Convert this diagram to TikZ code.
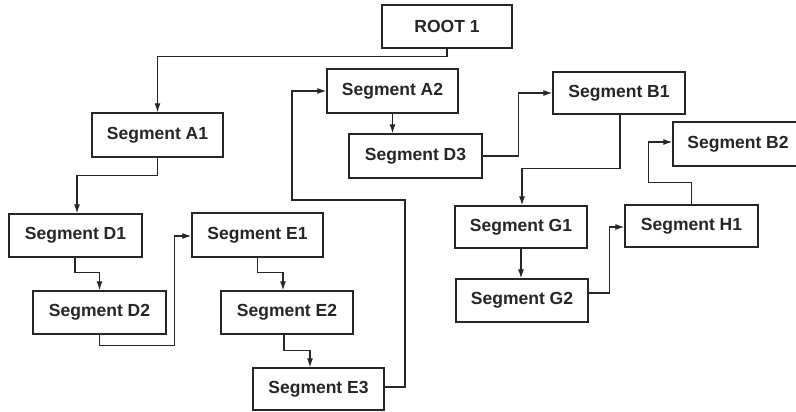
\documentclass[tikz,border=0pt]{standalone}
\usepackage{fontspec}
\setmainfont{Liberation Sans}
\usetikzlibrary{arrows.meta}
\begin{document}
\begin{tikzpicture}[x=1pt,y=-1pt,
  seg/.style={draw=black!85, line width=1.4pt, rectangle, inner sep=0pt,
    minimum width=132pt, minimum height=43pt,
    font=\fontsize{17.5}{19}\selectfont\bfseries, text=black!85},
  arr/.style={draw=black!85, line width=1.2pt, -{Latex[length=9pt,width=6pt]}}]
\useasboundingbox[fill=white] (0,0) rectangle (796,412);
\node[seg, minimum width=130pt] (root) at (447,26.5) {ROOT 1};
\node[seg, minimum width=131pt, minimum height=44pt] (A1) at (157.5,135) {Segment A1};
\node[seg, minimum width=133pt] (D1) at (75.5,235.5) {Segment D1};
\node[seg, minimum width=133pt] (D2) at (99.5,312.5) {Segment D2};
\node[seg, minimum width=131pt, minimum height=44pt] (E1) at (257.5,235) {Segment E1};
\node[seg] (E2) at (287,312.5) {Segment E2};
\node[seg, minimum width=131pt, minimum height=42pt] (E3) at (318.5,389) {Segment E3};
\node[seg, minimum width=131pt, minimum height=44pt] (A2) at (392.5,91) {Segment A2};
\node[seg, minimum width=133pt, minimum height=44pt] (D3) at (415.5,156) {Segment D3};
\node[seg, minimum height=42pt] (B1) at (619,93) {Segment B1};
\node[seg, minimum height=42pt] (G1) at (521,227) {Segment G1};
\node[seg] (G2) at (522,300.5) {Segment G2};
\node[seg, minimum width=133pt, minimum height=42pt] (H1) at (691.5,226) {Segment H1};
\node[seg, minimum width=130pt, minimum height=44pt] (B2) at (738,144) {Segment B2};
\coordinate (ea) at (405,200);
\coordinate (eb) at (292,200);
\draw[arr] (root.south) -- ++(0,8) -| (A1.north);
\draw[arr] (A1.south) -- ++(0,18) -| ([xshift=1.5pt]D1.north);
\draw[arr] ([xshift=-0.5pt]D1.south) -- ++(0,15) -| (D2.north);
\draw[arr] (D2.south) -- ++(0,11) -| ([xshift=-17pt,yshift=-1pt]E1.west) -- ([yshift=-1pt]E1.west);
\draw[arr] (E1.south) -- ++(0,15) -| ([xshift=-4pt]E2.north);
\draw[arr] ([xshift=-3pt]E2.south) -- ++(0,16) -| ([xshift=-8.5pt]E3.north);
\draw[arr] ([yshift=2pt]E3.east) -| (ea) -- (eb) |- (A2.west);
\draw[arr] (A2.south) -- (A2.south |- D3.north);
\draw[arr] (D3.east) -- ++(36,0) |- (B1.west);
\draw[arr] ([xshift=1pt]B1.south) -- ++(0,54) -| ([xshift=1pt]G1.north);
\draw[arr] (G1.south) -- (G1.south |- G2.north);
\draw[arr] ([yshift=7.5pt]G2.east) -- ++(21,0) |- ([yshift=-1pt]H1.west);
\draw[arr] (H1.north) -- ++(0,-22) -| ([xshift=-24pt,yshift=2pt]B2.west) -- ([yshift=2pt]B2.west);
\end{tikzpicture}
\end{document}
